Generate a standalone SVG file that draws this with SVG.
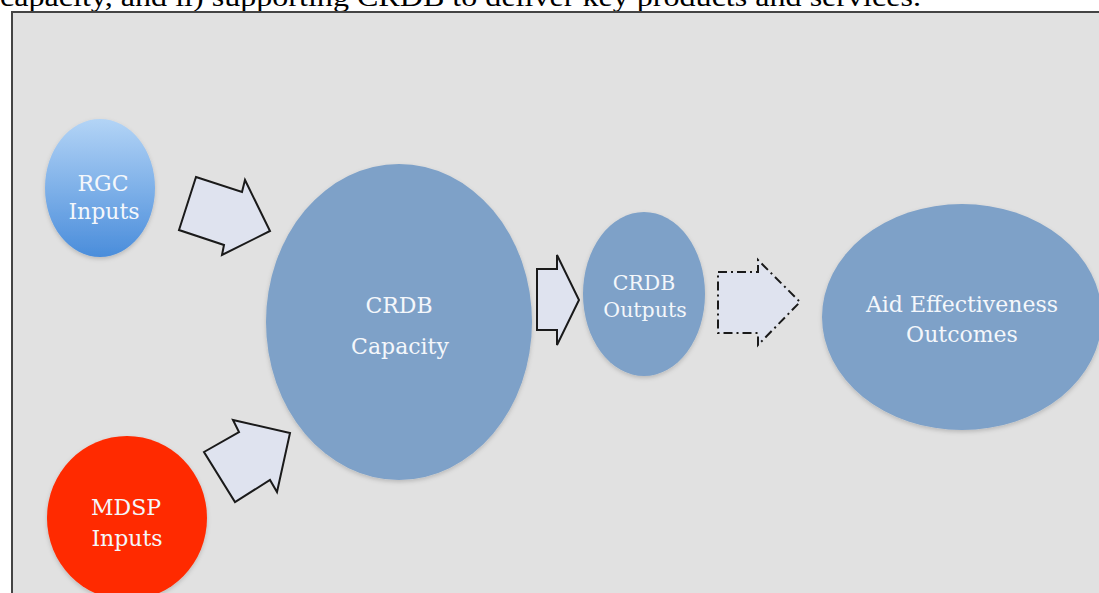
<svg xmlns="http://www.w3.org/2000/svg" width="1099" height="593" viewBox="0 0 1099 593">
<style>
.lbl{font-family:"DejaVu Serif","Liberation Serif",serif;fill:#f4f7fb;text-anchor:middle}
.arr{fill:#dfe3ef;stroke:#1a1a1a;stroke-width:2;stroke-linejoin:miter}
.dash{stroke-dasharray:9 4 2 4}
.node{fill:#7ea1c8}
</style>
<defs>
<linearGradient id="rgc" x1="0" y1="0" x2="0" y2="1">
<stop offset="0" stop-color="#b3d4f6"/>
<stop offset="1" stop-color="#4a8ddb"/>
</linearGradient>
<filter id="sh" x="-10%" y="-10%" width="120%" height="120%">
<feGaussianBlur in="SourceAlpha" stdDeviation="2"/>
<feOffset dx="0" dy="2" result="b"/>
<feFlood flood-color="#000" flood-opacity="0.18"/>
<feComposite in2="b" operator="in"/>
<feMerge><feMergeNode/><feMergeNode in="SourceGraphic"/></feMerge>
</filter>
</defs>
<rect x="0" y="0" width="1099" height="593" fill="#ffffff"/>
<text x="0" y="6" font-family="'Liberation Serif',serif" font-size="27" fill="#000" textLength="921" lengthAdjust="spacingAndGlyphs">capacity, and ii) supporting CRDB to deliver key products and services.</text>
<rect x="12" y="12" width="1100" height="600" fill="#e1e1e1" stroke="#444" stroke-width="2"/>
<g id="connectors">
<polygon class="arr" points="196,177 242,192 245,180 270,231 222,255 224,245 179,230"/>
<polygon class="arr" points="233,420 239,432 204,452 235,502 270,480 277,492 290,433"/>
<polygon class="arr" points="537,269 557,269 557,255 579,300 557,345 557,330 537,330"/>
<polygon class="arr dash" points="718,272 758,272 758,260 800,302 758,345 758,333 718,333"/>
</g>
<g id="rgc-inputs">
<ellipse cx="100" cy="188" rx="55" ry="69" fill="url(#rgc)" filter="url(#sh)"/>
<text class="lbl" x="103" y="191" font-size="22">RGC</text>
<text class="lbl" x="104" y="219" font-size="22">Inputs</text>
</g>
<g id="mdsp-inputs">
<ellipse cx="127" cy="518" rx="80" ry="82" fill="#ff2a00" filter="url(#sh)"/>
<text class="lbl" x="126" y="515" font-size="22">MDSP</text>
<text class="lbl" x="127" y="546" font-size="22">Inputs</text>
</g>
<g id="crdb-capacity">
<ellipse class="node" cx="399" cy="322" rx="133" ry="158" filter="url(#sh)"/>
<text class="lbl" x="399" y="313" font-size="22">CRDB</text>
<text class="lbl" x="400" y="354" font-size="22">Capacity</text>
</g>
<g id="crdb-outputs">
<ellipse class="node" cx="644" cy="294" rx="61" ry="82" filter="url(#sh)"/>
<text class="lbl" x="644" y="290" font-size="20.5">CRDB</text>
<text class="lbl" x="645" y="317" font-size="20.5">Outputs</text>
</g>
<g id="aid-outcomes">
<ellipse class="node" cx="962" cy="317" rx="140" ry="113" filter="url(#sh)"/>
<text class="lbl" x="962" y="312" font-size="22">Aid Effectiveness</text>
<text class="lbl" x="962" y="342" font-size="22">Outcomes</text>
</g>
</svg>
